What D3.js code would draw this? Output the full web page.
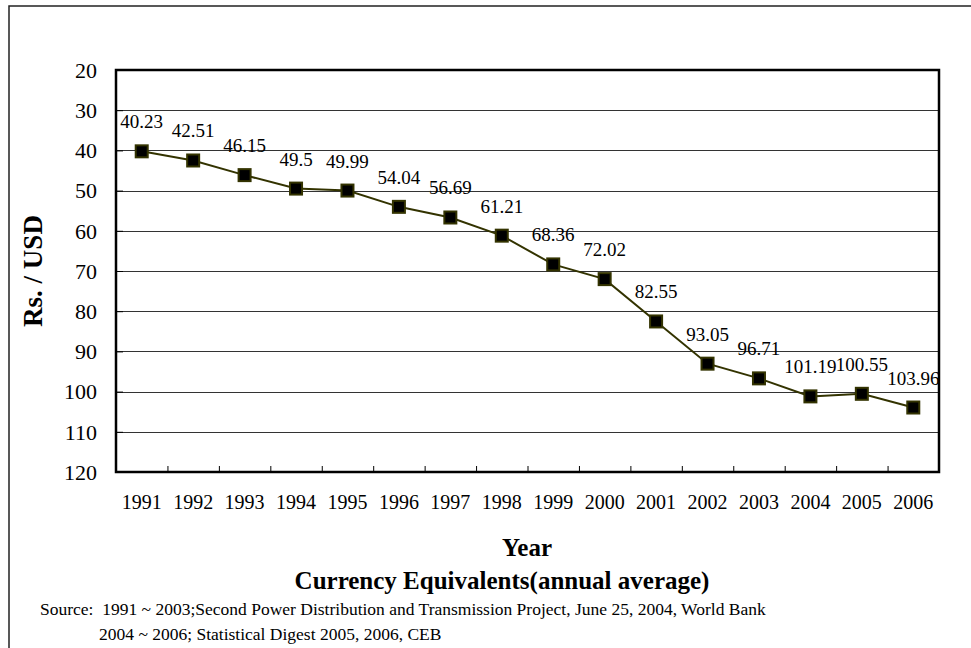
<!DOCTYPE html>
<html><head><meta charset="utf-8">
<script src="https://cdn.jsdelivr.net/npm/d3@7"></script>
<style>body{margin:0;background:#fff}svg{display:block}</style>
</head><body><svg id="c" width="971" height="648"></svg>
<script>
const years = ["1991","1992","1993","1994","1995","1996","1997","1998","1999","2000","2001","2002","2003","2004","2005","2006"];
const rates = [40.23,42.51,46.15,49.5,49.99,54.04,56.69,61.21,68.36,72.02,82.55,93.05,96.71,101.19,100.55,103.96];
const yTicks = [20,30,40,50,60,70,80,90,100,110,120];

const cv = document.createElement("canvas").getContext("2d");
function w(f){cv.font="20px "+f;return cv.measureText("abcdefghijklm0123456789").width;}
const base = w("monospace");
const cands = ['"Liberation Serif"','"Times New Roman"','Tinos','"Nimbus Roman"','"DejaVu Serif"'];
let FONT = cands.find(c=>w(c+", monospace")!==base) || "serif";
FONT = FONT + ', "Times New Roman", serif';

const svg = d3.select("#c").style("font-family",FONT);
const L=116,T=70,R=939,B=472;
svg.append("rect").attr("x",9).attr("y",6).attr("width",1000).attr("height",700).attr("fill","none").attr("stroke","#222").attr("stroke-width",1.5);
const x = d3.scaleBand().domain(years).range([L,R]);
const y = d3.scaleLinear().domain([20,120]).range([T,B]);
svg.append("g").selectAll("line").data(yTicks.slice(1,-1)).join("line")
 .attr("x1",L).attr("x2",R).attr("y1",d=>Math.round(y(d))+0.5).attr("y2",d=>Math.round(y(d))+0.5)
 .attr("stroke","#333").attr("stroke-width",1);
const ya = svg.append("g").attr("transform",`translate(${L},0)`).call(d3.axisRight(y).tickValues(yTicks).tickSize(7).tickFormat(""));
ya.select(".domain").remove(); ya.selectAll("line").attr("stroke","#000");
svg.append("g").selectAll("text").data(yTicks).join("text")
 .attr("x",97).attr("y",d=>y(d)).attr("dy","0.35em").attr("text-anchor","end")
 .attr("font-size",22).text(d=>d);
const xa = svg.append("g").attr("transform",`translate(0,${B})`)
 .call(d3.axisTop(d3.scaleLinear().domain([0,16]).range([L,R])).tickValues(d3.range(1,16)).tickSize(6).tickFormat(""));
xa.select(".domain").remove(); xa.selectAll("line").attr("stroke","#000");
svg.append("g").selectAll("text").data(years).join("text")
 .attr("x",d=>x(d)+x.bandwidth()/2).attr("y",509).attr("text-anchor","middle").attr("font-size",20).text(d=>d);
svg.append("rect").attr("x",L).attr("y",T).attr("width",R-L).attr("height",B-T).attr("fill","none").attr("stroke","#000").attr("stroke-width",2.5);
const cx = d=>x(d)+x.bandwidth()/2;
svg.append("path").datum(years.map((d,i)=>[cx(d),y(rates[i])]))
 .attr("d",d3.line()).attr("fill","none").attr("stroke","#333300").attr("stroke-width",2);
svg.append("g").selectAll("rect").data(years).join("rect")
 .attr("x",(d)=>cx(d)-6).attr("y",(d,i)=>y(rates[i])-6).attr("width",12).attr("height",12)
 .attr("fill","#000").attr("stroke","#333300").attr("stroke-width",2);
svg.append("g").selectAll("text").data(years).join("text")
 .attr("x",d=>cx(d)).attr("y",(d,i)=>y(rates[i])-23).attr("text-anchor","middle").attr("font-size",19)
 .text((d,i)=>rates[i]);
svg.append("text").attr("transform","translate(42,271) rotate(-90)").attr("text-anchor","middle")
 .attr("font-size",27).attr("font-weight","bold").text("Rs. / USD");
svg.append("text").attr("x",527).attr("y",556).attr("text-anchor","middle").attr("font-size",25).attr("font-weight","bold").text("Year");
svg.append("text").attr("x",502).attr("y",589).attr("text-anchor","middle").attr("font-size",25).attr("font-weight","bold").text("Currency Equivalents(annual average)");
svg.append("text").attr("x",40).attr("y",615).attr("font-size",17.5).style("white-space","pre")
 .text("Source:  1991 ~ 2003;Second Power Distribution and Transmission Project, June 25, 2004, World Bank");
svg.append("text").attr("x",99).attr("y",640).attr("font-size",17.5).text("2004 ~ 2006; Statistical Digest 2005, 2006, CEB");
</script></body></html>
